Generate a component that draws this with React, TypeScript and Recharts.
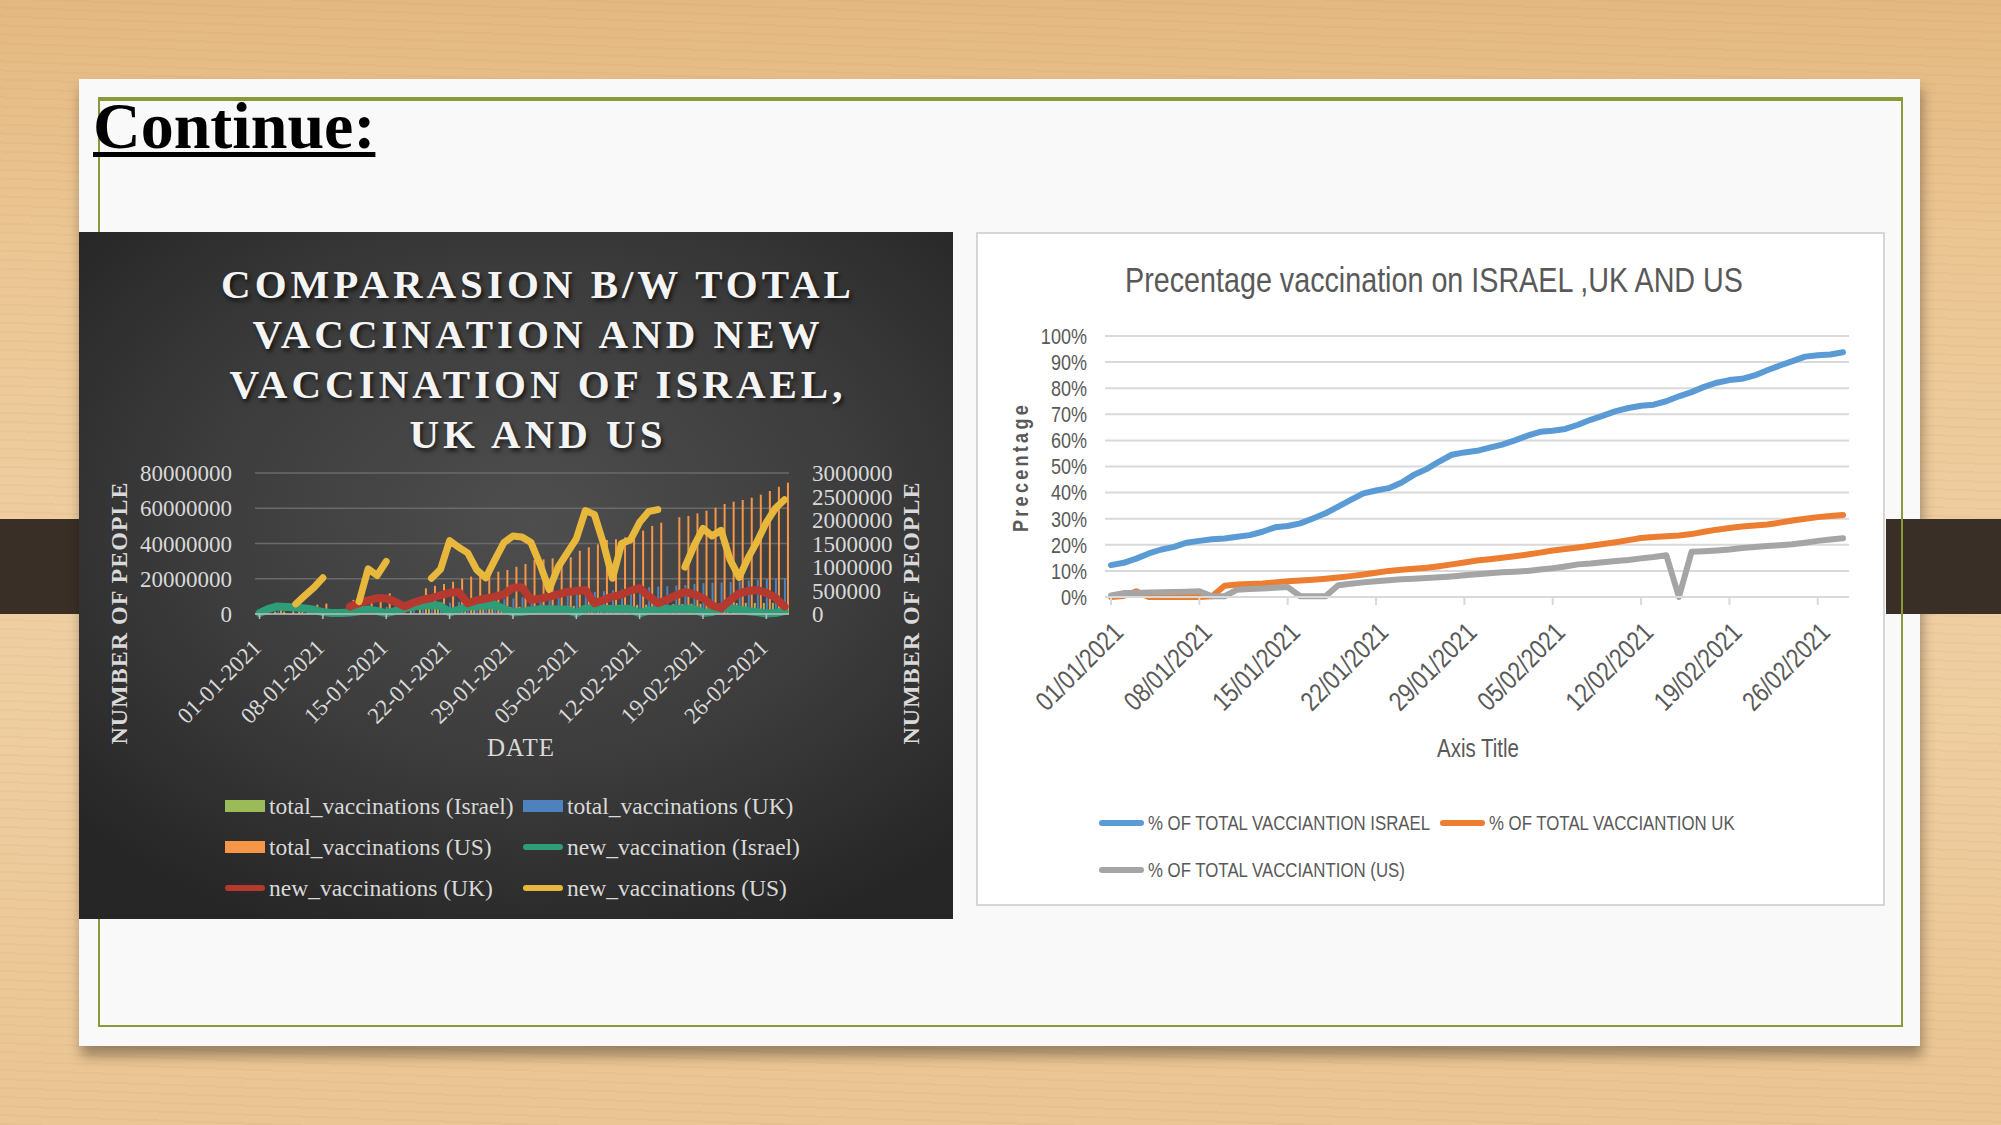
import React from 'react';
import { ComposedChart, LineChart, Bar, Line, XAxis, YAxis, CartesianGrid, Legend } from 'recharts';

const SERIF = "'Liberation Serif', 'Times New Roman', serif";
const SANS = "'Liberation Sans', Arial, sans-serif";
const SQUEEZE = 0.82; // Liberation Sans squeezed to a Calibri-like width

// categories (daily, 1 Jan - 28 Feb 2021)
const dates = [
  '01-01-2021', '02-01-2021', '03-01-2021', '04-01-2021', '05-01-2021', '06-01-2021', '07-01-2021',
  '08-01-2021', '09-01-2021', '10-01-2021', '11-01-2021', '12-01-2021', '13-01-2021', '14-01-2021',
  '15-01-2021', '16-01-2021', '17-01-2021', '18-01-2021', '19-01-2021', '20-01-2021', '21-01-2021',
  '22-01-2021', '23-01-2021', '24-01-2021', '25-01-2021', '26-01-2021', '27-01-2021', '28-01-2021',
  '29-01-2021', '30-01-2021', '31-01-2021', '01-02-2021', '02-02-2021', '03-02-2021', '04-02-2021',
  '05-02-2021', '06-02-2021', '07-02-2021', '08-02-2021', '09-02-2021', '10-02-2021', '11-02-2021',
  '12-02-2021', '13-02-2021', '14-02-2021', '15-02-2021', '16-02-2021', '17-02-2021', '18-02-2021',
  '19-02-2021', '20-02-2021', '21-02-2021', '22-02-2021', '23-02-2021', '24-02-2021', '25-02-2021',
  '26-02-2021', '27-02-2021', '28-02-2021',
];

// total vaccinations, millions of people (left axis)
const israelTotal = [
  1.1, 1.2, 1.3, 1.4, 1.6, 1.7, 1.8, 1.8, 1.9, 1.9,
  1.9, 2.0, 2.1, 2.1, 2.2, 2.2, 2.3, 2.5, 2.7, 2.9,
  3.0, 3.1, 3.2, 3.3, 3.5, 3.7, 3.8, 4.0, 4.0, 4.1,
  4.2, 4.3, 4.4, 4.5, 4.6, 4.6, 4.7, 4.8, 4.9, 5.0,
  5.1, 5.2, 5.2, 5.3, 5.4, 5.5, 5.6, 5.7, 5.8, 5.8,
  5.8, 6.0, 6.1, 6.2, 6.3, 6.3, 6.3, 6.4, 6.5,
];
const ukTotal = [
  null, null, 1.4, null, null, null, null, null, null, 2.7,
  2.8, 3.1, 3.4, 3.7, 4.0, 4.3, 4.5, 4.7, 5.1, 5.4,
  5.9, 6.4, 6.9, 7.0, 7.3, 7.6, 8.0, 8.4, 8.9, 9.5,
  9.8, 10.1, 10.5, 11.0, 11.5, 12.0, 12.3, 12.6, 12.9, 13.4,
  13.9, 14.4, 14.9, 15.3, 15.6, 15.8, 16.1, 16.5, 17.0, 17.5,
  17.7, 17.9, 18.2, 18.5, 19.0, 19.4, 19.9, 20.1, 20.3,
];
const usTotal = [
  2.8, null, 4.2, null, 4.6, 4.8, 5.3, 5.9, null, null,
  8.0, 8.6, 8.9, 10.2, 11.7, null, null, null, 14.6, 16.0,
  17.0, 18.3, 20.0, 21.2, 22.0, 23.1, 24.0, 25.0, 26.8, 28.4,
  30.6, 31.0, 31.6, 32.0, 32.2, 35.9, 37.8, 39.5, 42.0, 42.4,
  43.5, 44.8, 47.3, 50.0, 51.8, null, 54.9, 55.6, 57.1, 58.6,
  60.3, 62.4, 63.7, 64.7, 66.0, 67.7, 69.8, 72.2, 74.5,
];

// new vaccinations, thousands of people (right axis)
const israelNew = [
  20, 110, 160, 150, 140, 120, 90, 40, 20, 20,
  30, 60, 100, 60, 20, 60, 120, 160, 180, 190,
  170, 30, 90, 160, 170, 180, 190, 110, 30, 50,
  70, 100, 100, 95, 90, 15, 110, 120, 110, 105,
  110, 100, 15, 70, 90, 100, 105, 110, 100, 20,
  40, 130, 120, 90, 60, 40, 10, 20, 60,
];
const ukNew = [
  null, null, null, null, null, null, null, null, null, null,
  160, 230, 290, 340, 330, 260, 160, 240, 300, 340,
  400, 450, 470, 230, 290, 330, 370, 420, 560, 570,
  300, 330, 370, 420, 470, 490, 510, 230, 300, 370,
  410, 500, 550, 380, 230, 300, 400, 470, 420, 340,
  180, 130, 300, 440, 490, 510, 450, 350, 160,
];
const usNew = [
  null, null, null, null, 213, 390, 560, 770, null, null,
  null, 262, 960, 820, 1120, null, null, null, null, 760,
  950, 1560, 1420, 1300, 940, 770, 1150, 1520, 1660, 1640,
  1520, 1050, 520, 1000, 1300, 1600, 2200, 2120, 1500, 760,
  1500, 1580, 1950, 2180, 2220, null, null, 1000, 1450, 1820,
  1660, 1780, 1150, 780, 1200, 1550, 1950, 2250, 2430,
];

// % of total vaccination
const pctIsrael = [
  12.2, 13.1, 14.7, 16.7, 18.2, 19.2, 20.8, 21.5, 22.1, 22.4,
  23.1, 23.7, 25.0, 26.7, 27.2, 28.2, 30.1, 32.1, 34.6, 37.2,
  39.7, 40.8, 41.7, 43.8, 46.8, 49.0, 51.9, 54.5, 55.4, 56.0,
  57.2, 58.4, 60.0, 61.8, 63.3, 63.7, 64.4, 66.0, 67.9, 69.5,
  71.2, 72.4, 73.3, 73.7, 75.0, 76.9, 78.5, 80.5, 82.1, 83.1,
  83.6, 84.9, 86.9, 88.7, 90.4, 92.1, 92.6, 92.9, 93.8,
];
const pctUK = [
  0, 0.4, 2.2, 0, 0, 0, 0, 0, 0.3, 4.3,
  4.8, 5.0, 5.2, 5.6, 6.0, 6.3, 6.6, 7.0, 7.5, 8.0,
  8.6, 9.3, 10.0, 10.4, 10.8, 11.2, 11.8, 12.5, 13.2, 14.0,
  14.5, 15.0, 15.6, 16.3, 17.0, 17.8, 18.4, 19.0, 19.6, 20.3,
  21.0, 21.8, 22.6, 23.0, 23.3, 23.6, 24.1, 25.0, 25.8, 26.4,
  27.0, 27.4, 27.8, 28.5, 29.3, 30.0, 30.6, 31.0, 31.4,
];
const pctUS = [
  0.6, 1.5, 1.5, 1.7, 1.8, 1.9, 2.0, 2.2, 0.3, 0.3,
  2.8, 3.1, 3.3, 3.5, 3.8, 0.3, 0.3, 0.3, 4.5, 5.1,
  5.6, 6.0, 6.4, 6.8, 7.0, 7.3, 7.6, 7.9, 8.3, 8.7,
  9.1, 9.5, 9.7, 10.0, 10.5, 11.0, 11.7, 12.5, 12.8, 13.3,
  13.8, 14.2, 14.8, 15.3, 16.0, 0, 17.3, 17.5, 17.8, 18.2,
  18.8, 19.2, 19.5, 19.8, 20.2, 20.8, 21.5, 22.0, 22.5,
];

const leftTicks = [0, 20, 40, 60, 80];
const rightTicks = [0, 500, 1000, 1500, 2000, 2500, 3000];
const pctTicks = [0, 10, 20, 30, 40, 50, 60, 70, 80, 90, 100];

const leftLegend = [
  { name: 'total_vaccinations (Israel)', color: '#9bbb59', kind: 'bar' },
  { name: 'total_vaccinations (UK)', color: '#4f81bd', kind: 'bar' },
  { name: 'total_vaccinations (US)', color: '#f79646', kind: 'bar' },
  { name: 'new_vaccination (Israel)', color: '#2f9e78', kind: 'line' },
  { name: 'new_vaccinations (UK)', color: '#b5392e', kind: 'line' },
  { name: 'new_vaccinations (US)', color: '#e8b83c', kind: 'line' },
];
const rightLegend = [
  { name: '% OF TOTAL VACCIANTION ISRAEL', color: '#5b9bd5' },
  { name: '% OF TOTAL VACCIANTION UK', color: '#ed7d31' },
  { name: '% OF TOTAL VACCIANTION (US)', color: '#a5a5a5' },
];

const vaccData = dates.map((date, i) => ({
  date,
  israelTotal: israelTotal[i],
  ukTotal: ukTotal[i],
  usTotal: usTotal[i],
  israelNew: israelNew[i],
  ukNew: ukNew[i],
  usNew: usNew[i],
}));

const pctData = dates.map((date, i) => ({
  date: date.replace(/-/g, '/'),
  israel: pctIsrael[i],
  uk: pctUK[i],
  us: pctUS[i],
}));

// rotated date labels under the dark chart
const DarkDateTick = (props: any) => {
  const { x, y, payload } = props;
  const ax = x + 3;
  const ay = y + 30;
  return (
    <text x={ax} y={ay} transform={`rotate(-45 ${ax} ${ay})`} textAnchor="end" fill="#d9d9d9" fontSize={23} fontFamily={SERIF}>
      {payload.value}
    </text>
  );
};

// squeezed sans labels for the white chart
const LightDateTick = (props: any) => {
  const { x, y, payload } = props;
  const ax = x + 14;
  const ay = y + 29;
  return (
    <text
      x={0}
      y={0}
      transform={`translate(${ax} ${ay}) rotate(-45) scale(${SQUEEZE} 1)`}
      textAnchor="end"
      fill="#595959"
      fontSize={27}
      fontFamily={SANS}
    >
      {payload.value}
    </text>
  );
};

const PercentTick = (props: any) => {
  const { x, y, payload } = props;
  return (
    <text x={0} y={0} dy="0.355em" transform={`translate(${x} ${y}) scale(${SQUEEZE} 1)`} textAnchor="end" fill="#595959" fontSize={22} fontFamily={SANS}>
      {`${payload.value}%`}
    </text>
  );
};

const squeezed = (size: number, extra: React.CSSProperties = {}): React.CSSProperties => ({
  display: 'inline-block',
  fontFamily: SANS,
  fontSize: size,
  color: '#595959',
  transform: `scaleX(${SQUEEZE})`,
  transformOrigin: 'left center',
  whiteSpace: 'nowrap',
  ...extra,
});

const renderLeftLegend = () => (
  <div style={{ position: 'relative', width: 874, height: 130 }}>
    {leftLegend.map((item, i) => {
      const col = i % 2;
      const row = Math.floor(i / 2);
      const left = col === 0 ? 146 : 444;
      const top = 24 + row * 41;
      return (
        <div key={item.name} style={{ position: 'absolute', left, top: top - 15, height: 30, display: 'flex', alignItems: 'center', whiteSpace: 'nowrap' }}>
          <div
            style={{
              width: 40,
              height: item.kind === 'bar' ? 12 : 6,
              borderRadius: item.kind === 'bar' ? 0 : 3,
              background: item.color,
              marginRight: 4,
            }}
          />
          <span style={{ color: '#d9d9d9', fontSize: 23.5, fontFamily: SERIF, lineHeight: '30px' }}>{item.name}</span>
        </div>
      );
    })}
  </div>
);

const renderRightLegend = () => (
  <div style={{ position: 'relative', width: 905, height: 90 }}>
    {rightLegend.map((item, i) => {
      const left = i === 1 ? 462 : 121;
      const top = i === 2 ? 66 : 19;
      return (
        <div key={item.name} style={{ position: 'absolute', left, top: top - 14, height: 28, display: 'flex', alignItems: 'center', whiteSpace: 'nowrap' }}>
          <div style={{ width: 45, height: 6, borderRadius: 3, background: item.color, marginRight: 4 }} />
          <span style={squeezed(20.5, { lineHeight: '28px' })}>{item.name}</span>
        </div>
      );
    })}
  </div>
);

const centered = (cx: number, cy: number, rotate = 0, sx = 1): React.CSSProperties => ({
  position: 'absolute',
  left: cx,
  top: cy,
  transform: `translate(-50%, -50%) rotate(${rotate}deg) scaleX(${sx})`,
  whiteSpace: 'nowrap',
});

const DarkChart = () => (
  <div
    style={{
      position: 'absolute',
      left: 79,
      top: 232,
      width: 874,
      height: 687,
      background: 'radial-gradient(ellipse 70% 65% at 52% 42%, #4e4e4e 0%, #3c3c3c 55%, #262626 100%)',
      overflow: 'hidden',
    }}
  >
    <div
      style={{
        position: 'absolute',
        left: 22,
        top: 27,
        width: 874,
        textAlign: 'center',
        color: '#f4f4f4',
        fontFamily: SERIF,
        fontWeight: 700,
        fontSize: 41,
        letterSpacing: 4,
        lineHeight: '50px',
        textShadow: '2px 3px 4px rgba(0,0,0,0.7)',
      }}
    >
      <div>COMPARASION B/W TOTAL</div>
      <div>VACCINATION AND NEW</div>
      <div>VACCINATION OF ISRAEL,</div>
      <div>UK AND US</div>
    </div>

    <ComposedChart
      width={874}
      height={687}
      data={vaccData}
      margin={{ top: 241, right: 0, bottom: 195, left: 0 }}
      barGap={1}
      style={{ position: 'absolute', left: 0, top: 0 }}
    >
      <CartesianGrid yAxisId="left" vertical={false} stroke="#6a6a6a" strokeWidth={1.5} />
      <XAxis
        dataKey="date"
        interval={6}
        height={110}
        tickSize={5}
        tickMargin={0}
        tick={<DarkDateTick />}
        axisLine={{ stroke: '#bdbdbd', strokeWidth: 1.5 }}
        tickLine={{ stroke: '#bdbdbd', strokeWidth: 1.5 }}
      />
      <YAxis
        yAxisId="left"
        width={176}
        domain={[0, 80]}
        ticks={leftTicks}
        interval={0}
        tickFormatter={(v: number) => String(v * 1000000)}
        axisLine={false}
        tickLine={false}
        tickSize={0}
        tickMargin={23}
        tick={{ fill: '#d9d9d9', fontSize: 23, fontFamily: SERIF }}
      />
      <YAxis
        yAxisId="right"
        orientation="right"
        width={164}
        domain={[0, 3000]}
        ticks={rightTicks}
        interval={0}
        tickFormatter={(v: number) => String(v * 1000)}
        axisLine={false}
        tickLine={false}
        tickSize={0}
        tickMargin={23}
        tick={{ fill: '#d9d9d9', fontSize: 23, fontFamily: SERIF }}
      />
      <Bar yAxisId="left" dataKey="israelTotal" name="total_vaccinations (Israel)" fill="#9bbb59" barSize={2} isAnimationActive={false} />
      <Bar yAxisId="left" dataKey="ukTotal" name="total_vaccinations (UK)" fill="#4f81bd" barSize={2} isAnimationActive={false} />
      <Bar yAxisId="left" dataKey="usTotal" name="total_vaccinations (US)" fill="#f79646" barSize={2} isAnimationActive={false} />
      <Line yAxisId="right" type="linear" dataKey="israelNew" name="new_vaccination (Israel)" stroke="#2f9e78" strokeWidth={8} dot={false} strokeLinecap="round" strokeLinejoin="round" isAnimationActive={false} />
      <Line yAxisId="right" type="linear" dataKey="ukNew" name="new_vaccinations (UK)" stroke="#b5392e" strokeWidth={8} dot={false} strokeLinecap="round" strokeLinejoin="round" isAnimationActive={false} />
      <Line yAxisId="right" type="linear" dataKey="usNew" name="new_vaccinations (US)" stroke="#e8b83c" strokeWidth={7} dot={false} strokeLinecap="round" strokeLinejoin="round" isAnimationActive={false} />
      <Legend
        layout="vertical"
        align="center"
        verticalAlign="middle"
        content={renderLeftLegend}
        wrapperStyle={{ top: 550, left: 0, width: 874 }}
      />
    </ComposedChart>

    <div style={{ ...centered(40, 381, -90), color: '#d9d9d9', fontFamily: SERIF, fontWeight: 700, fontSize: 24, letterSpacing: 1 }}>
      NUMBER OF PEOPLE
    </div>
    <div style={{ ...centered(832, 381, -90), color: '#d9d9d9', fontFamily: SERIF, fontWeight: 700, fontSize: 24, letterSpacing: 1 }}>
      NUMBER OF PEOPLE
    </div>
    <div style={{ ...centered(442, 516), color: '#d9d9d9', fontFamily: SERIF, fontSize: 25, letterSpacing: 1 }}>DATE</div>
  </div>
);

const PercentChart = () => (
  <div
    style={{
      position: 'absolute',
      left: 976,
      top: 232,
      width: 909,
      height: 674,
      background: '#ffffff',
      border: '2px solid #d6d6d6',
      boxSizing: 'border-box',
    }}
  >
    <div style={{ ...centered(456, 46, 0, SQUEEZE), color: '#595959', fontFamily: SANS, fontSize: 35 }}>
      Precentage vaccination on ISRAEL ,UK AND US
    </div>
    <LineChart
      width={905}
      height={670}
      data={pctData}
      margin={{ top: 102, right: 34, bottom: 167, left: 0 }}
      style={{ position: 'absolute', left: 0, top: 0 }}
    >
      <CartesianGrid vertical={false} stroke="#d9d9d9" strokeWidth={2} />
      <XAxis
        dataKey="date"
        interval={6}
        height={140}
        padding={{ left: 6, right: 6 }}
        tickSize={8}
        tickMargin={0}
        tick={<LightDateTick />}
        axisLine={{ stroke: '#d9d9d9', strokeWidth: 2 }}
        tickLine={{ stroke: '#d9d9d9', strokeWidth: 2 }}
      />
      <YAxis
        width={127}
        domain={[0, 100]}
        ticks={pctTicks}
        interval={0}
        axisLine={false}
        tickLine={false}
        tickSize={0}
        tickMargin={18}
        tick={<PercentTick />}
      />
      <Line type="linear" dataKey="israel" name="% OF TOTAL VACCIANTION ISRAEL" stroke="#5b9bd5" strokeWidth={6} dot={false} strokeLinecap="round" strokeLinejoin="round" isAnimationActive={false} />
      <Line type="linear" dataKey="uk" name="% OF TOTAL VACCIANTION UK" stroke="#ed7d31" strokeWidth={6} dot={false} strokeLinecap="round" strokeLinejoin="round" isAnimationActive={false} />
      <Line type="linear" dataKey="us" name="% OF TOTAL VACCIANTION (US)" stroke="#a5a5a5" strokeWidth={6} dot={false} strokeLinecap="round" strokeLinejoin="round" isAnimationActive={false} />
      <Legend
        layout="vertical"
        align="center"
        verticalAlign="middle"
        content={renderRightLegend}
        wrapperStyle={{ top: 570, left: 0, width: 905 }}
      />
    </LineChart>
    <div style={{ ...centered(43, 233, -90, SQUEEZE), color: '#595959', fontFamily: SANS, fontWeight: 700, fontSize: 22, letterSpacing: 4 }}>
      Precentage
    </div>
    <div style={{ ...centered(500, 514, 0, SQUEEZE), color: '#595959', fontFamily: SANS, fontSize: 25 }}>Axis Title</div>
  </div>
);

export default function App() {
  return (
    <div
      style={{
        position: 'absolute',
        left: 0,
        top: 0,
        width: 2001,
        height: 1125,
        overflow: 'hidden',
        background:
          'repeating-linear-gradient(2deg, rgba(160,110,60,0.05) 0px, rgba(160,110,60,0.05) 2px, transparent 2px, transparent 9px), linear-gradient(180deg, #e4b981 0%, #ecc795 25%, #efcfa2 55%, #ebc593 100%)',
      }}
    >
      {/* dark band behind the slide */}
      <div style={{ position: 'absolute', left: 0, top: 519, width: 2001, height: 95, background: '#3a2f26' }} />
      {/* slide */}
      <div
        style={{
          position: 'absolute',
          left: 79,
          top: 79,
          width: 1841,
          height: 967,
          background: '#f9f9f9',
          boxShadow: '2px 10px 12px rgba(0,0,0,0.35)',
        }}
      />
      <div style={{ position: 'absolute', left: 1886, top: 519, width: 115, height: 95, background: '#3a2f26' }} />
      <div
        style={{
          position: 'absolute',
          left: 98,
          top: 97,
          width: 1805,
          height: 930,
          borderStyle: 'solid',
          borderColor: '#899a3a',
          borderWidth: '4px 2px 2px 2px',
          boxSizing: 'border-box',
        }}
      />
      <div
        style={{
          position: 'absolute',
          left: 93,
          top: 93,
          fontFamily: SERIF,
          fontWeight: 700,
          fontSize: 66,
          lineHeight: '66px',
          color: '#000',
          textDecoration: 'underline',
          textDecorationThickness: 5,
          textUnderlineOffset: 4,
          whiteSpace: 'nowrap',
        }}
      >
        Continue:
      </div>

      <DarkChart />
      <PercentChart />
    </div>
  );
}
